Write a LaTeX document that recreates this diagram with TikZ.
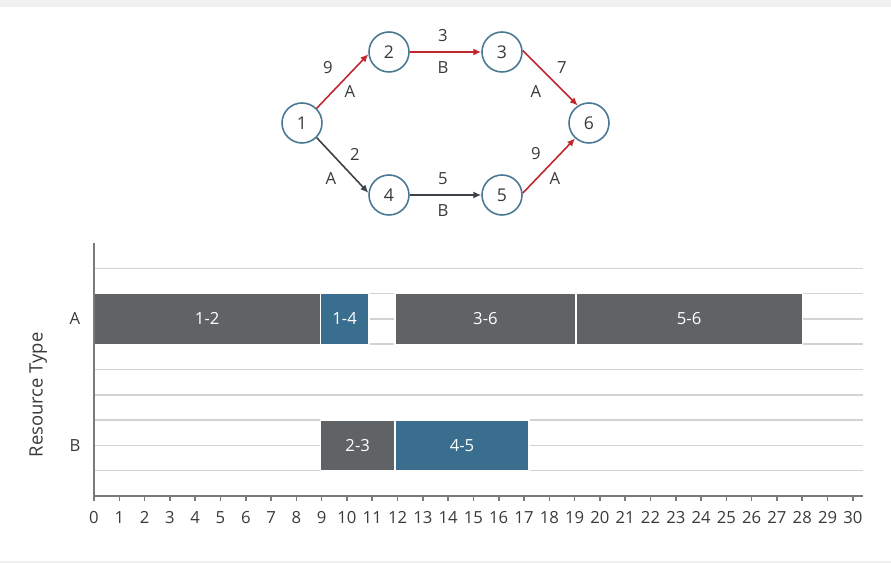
\documentclass[tikz,border=0pt]{standalone}
\usepackage[rgb]{xcolor}
\usepackage{fontspec}
\setmainfont{Open Sans}
\usepackage{tikz}
\usetikzlibrary{arrows.meta}

\definecolor{ink}{HTML}{383B3D}
\definecolor{ringblue}{HTML}{4A7892}
\definecolor{critred}{HTML}{C0272D}
\definecolor{plainarrow}{HTML}{3B4146}
\definecolor{bardark}{HTML}{5F6366}
\definecolor{barblue}{HTML}{3A6E8E}
\definecolor{gridgray}{HTML}{D3D3D3}
\definecolor{axisgray}{HTML}{7A7A7A}
\definecolor{bandgray}{HTML}{F1F1F1}

\begin{document}
\begin{tikzpicture}[x=0.02cm, y=0.02cm,
  event/.style={circle, draw=ringblue, line width=0.9pt, fill=white, minimum size=0.8cm, inner sep=0pt, text=ink, font=\fontsize{10}{12}\selectfont},
  critarrow/.style={-{Latex[length=4.5pt,width=4pt]}, critred, line width=0.9pt},
  normarrow/.style={-{Latex[length=4.5pt,width=4pt]}, plainarrow, line width=0.9pt},
  lbl/.style={text=ink, font=\fontsize{9.5}{11}\selectfont, inner sep=0pt},
  gridline/.style={gridgray, line width=0.9pt},
  axisline/.style={axisgray, line width=0.9pt},
  gbar/.style={draw=white, line width=0.8pt},
  barlbl/.style={text=white, font=\fontsize{9.5}{11}\selectfont, inner sep=0pt},
  ticklbl/.style={text=ink, font=\fontsize{9.5}{11}\selectfont, inner sep=0pt}]

\useasboundingbox (0,0) rectangle (891,563);
\fill[bandgray] (0,556) rectangle (891,563);
\fill[bandgray] (0,0) rectangle (891,2);

% activity network

\path
(302,440) node[event] (n1) {1}
(389,511) node[event] (n2) {2}
(502,511) node[event] (n3) {3}
(389,368) node[event] (n4) {4}
(502,368) node[event] (n5) {5}
(589,440) node[event] (n6) {6};

\draw[critarrow] (n1.45) -- (n2.186);
\draw[critarrow] (n2) -- (n3);
\draw[critarrow] (n3.4) -- (n6.123);
\draw[critarrow] (n5.5) -- (n6.228);
\draw[normarrow] (n1.-45) -- (n4.174);
\draw[normarrow] (n4) -- (n5);

\path
(328,495) node[lbl] (d12) {9}
(350,471) node[lbl] (r12) {A}
(443,527) node[lbl] (d23) {3}
(443,495) node[lbl] (r23) {B}
(562,495) node[lbl] (d36) {7}
(536,471) node[lbl] (r36) {A}
(355,409) node[lbl] (d14) {2}
(331,384) node[lbl] (r14) {A}
(443,384) node[lbl] (d45) {5}
(443,352) node[lbl] (r45) {B}
(536,409) node[lbl] (d56) {9}
(555,384) node[lbl] (r56) {A};

% resource chart

\begin{scope}[shift={(94,67)}, x=0.506cm, y=0.506cm]
\foreach \y in {1,...,9}
  \draw[gridline] (0,\y) -- (30.4,\y);

\foreach \a/\b/\y/\c/\t/\nm in {0/8.95/6/bardark/1-2/a12, 8.95/10.87/6/barblue/1-4/a14,
    11.9/19.05/6/bardark/3-6/a36, 19.05/28/6/bardark/5-6/a56,
    8.95/11.9/1/bardark/2-3/b23, 11.9/17.2/1/barblue/4-5/b45}
{
  \draw[gbar, fill=\c] (\a,\y) rectangle (\b,\y+2);
  \node[barlbl] (\nm) at ({(\a+\b)/2},\y+1) {\t};
}

\draw[axisline] (0,10) -- (0,0) -- (30.4,0);
\foreach \t in {0,...,30}
{
  \draw[axisline] (\t,0) -- (\t,-0.18);
  \node[ticklbl] (t\t) at (\t,-0.84) {\t};
}

\node[lbl] (rowA) at (-0.75,7) {A};
\node[lbl] (rowB) at (-0.75,2) {B};
\node[text=ink, rotate=90, font=\fontsize{10.5}{12}\selectfont] (restype) at (-2.2,4) {Resource Type};
\end{scope}

\end{tikzpicture}
\end{document}
